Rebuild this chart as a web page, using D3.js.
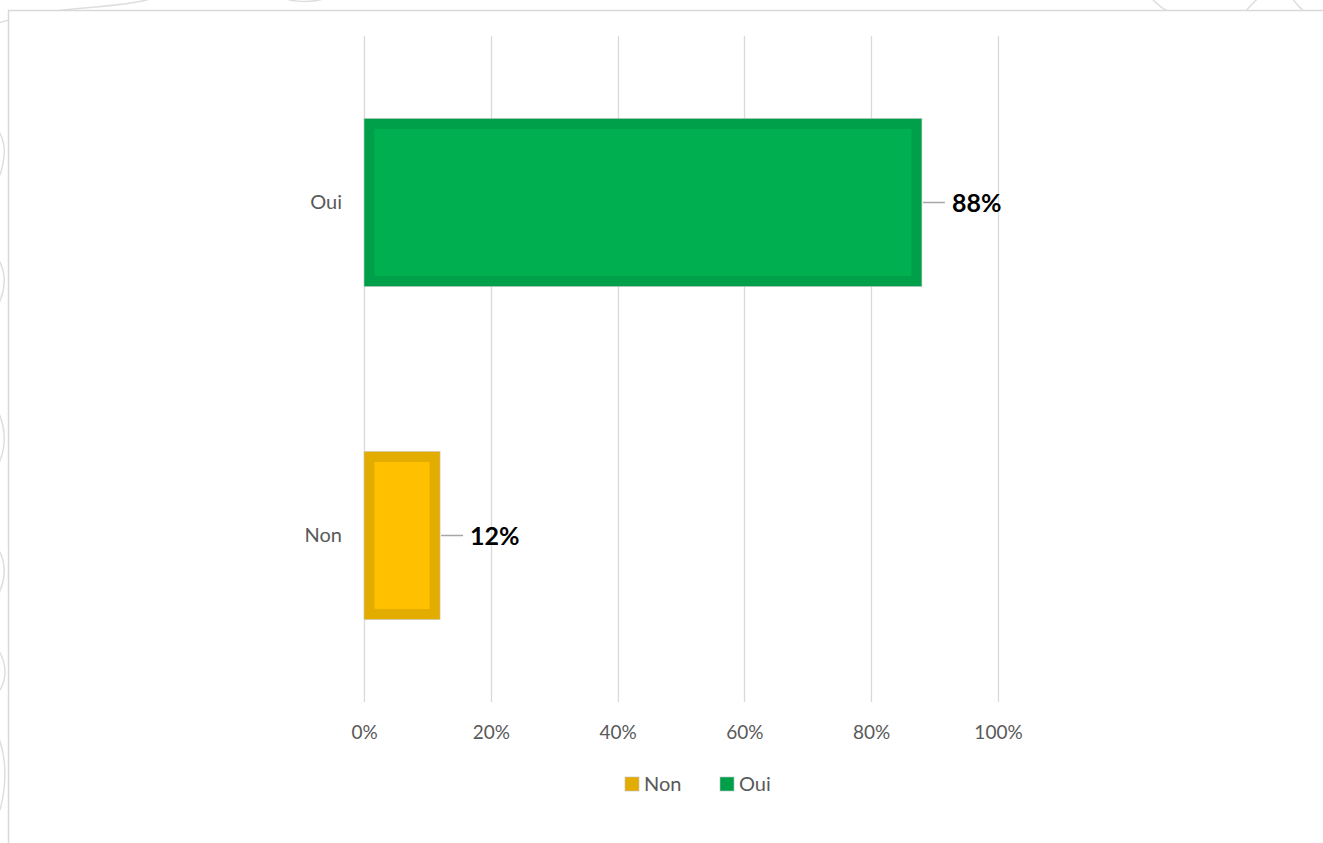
<!DOCTYPE html>
<html>
<head>
<meta charset="utf-8">
<script src="https://cdn.jsdelivr.net/npm/d3@7"></script>
<style>
  html, body { margin: 0; padding: 0; background: #fff; }
  svg { display: block; }
</style>
</head>
<body>
<svg id="chart" width="1323" height="843"></svg>
<script>
// Survey answers and their shares
const categories = ["Oui", "Non"];
const values = [0.88, 0.12];
const valueLabels = ["88%", "12%"];
const tickValues = [0, 0.2, 0.4, 0.6, 0.8, 1.0];
const legendOrder = ["Non", "Oui"];

const fillOuter = { Oui: "#00A04A", Non: "#E3AC00" };
const fillInner = { Oui: "#00B050", Non: "#FFC000" };

const svg = d3.select("#chart");
const W = 1323, H = 843;
const font = "Lato, 'Open Sans', sans-serif";

// Decorative faint curves behind the chart frame
const deco = svg.append("g").attr("fill", "none").attr("stroke", "#dedede").attr("stroke-width", 1.5);
const decoPaths = [
  "M -20 30 C 60 -5, 140 20, 190 -20",
  "M 250 -20 C 280 5, 320 12, 360 -20",
  "M 1140 -20 C 1150 0, 1160 8, 1170 12",
  "M 1245 12 C 1255 0, 1265 -8, 1280 -20",
  "M 1285 -20 C 1290 0, 1300 8, 1305 12",
  "M -10 120 C 5 135, 8 150, 0 175",
  "M -10 250 C 8 265, 8 290, -5 310",
  "M -10 400 C 8 420, 8 450, -5 470",
  "M -10 540 C 8 555, 8 580, -5 600",
  "M -10 640 C 6 655, 9 675, 0 690",
  "M -5 730 C 6 750, 8 780, 0 810"
];
deco.selectAll("path").data(decoPaths).join("path").attr("d", d => d);

// Chart frame
svg.append("rect")
  .attr("x", 8.5).attr("y", 10.5)
  .attr("width", W + 20).attr("height", H + 20)
  .attr("fill", "#fff").attr("stroke", "#d9d9d9").attr("stroke-width", 1.5);

const x = d3.scaleLinear().domain([0, 1]).range([364, 998]);
const y = d3.scaleBand().domain(categories).range([36, 702])
  .paddingInner(0.495).paddingOuter(0.2475);

// Vertical gridlines
svg.append("g").selectAll("line").data(tickValues).join("line")
  .attr("x1", d => Math.round(x(d)) + 0.5).attr("x2", d => Math.round(x(d)) + 0.5)
  .attr("y1", 36).attr("y2", 702)
  .attr("stroke", "#d9d9d9").attr("stroke-width", 1.3);

// X axis labels
const xAxis = svg.append("g").attr("transform", "translate(0,702)")
  .call(d3.axisBottom(x).tickValues(tickValues).tickSize(0).tickPadding(24)
    .tickFormat(d3.format(".0%")));
xAxis.select(".domain").remove();
xAxis.selectAll("text").attr("font-family", font).attr("font-size", 19).attr("fill", "#595959");

// Y axis labels
const yAxis = svg.append("g").attr("transform", "translate(364,0)")
  .call(d3.axisLeft(y).tickSize(0).tickPadding(22));
yAxis.select(".domain").remove();
yAxis.selectAll("text").attr("font-family", font).attr("font-size", 20).attr("fill", "#595959");

// Bars: darker outer band with lighter inner fill
const bars = svg.append("g").selectAll("g").data(categories).join("g");
bars.append("rect")
  .attr("x", x(0)).attr("y", d => y(d))
  .attr("width", (d, i) => x(values[i]) - x(0)).attr("height", y.bandwidth())
  .attr("fill", d => fillOuter[d]).attr("stroke", "#c8c8c8").attr("stroke-width", 0.6);
const inset = 10.5;
bars.append("rect")
  .attr("x", x(0) + inset).attr("y", d => y(d) + inset)
  .attr("width", (d, i) => Math.max(0, x(values[i]) - x(0) - 2 * inset))
  .attr("height", y.bandwidth() - 2 * inset)
  .attr("fill", d => fillInner[d]);

// Value labels with leader lines
bars.append("line")
  .attr("x1", (d, i) => x(values[i]) + 1).attr("x2", (d, i) => x(values[i]) + 23)
  .attr("y1", d => y(d) + y.bandwidth() / 2).attr("y2", d => y(d) + y.bandwidth() / 2)
  .attr("stroke", "#a6a6a6").attr("stroke-width", 1.5);
bars.append("text")
  .attr("x", (d, i) => x(values[i]) + 30)
  .attr("y", d => y(d) + y.bandwidth() / 2)
  .attr("dy", "0.36em")
  .attr("font-family", font).attr("font-weight", "bold").attr("font-size", 25)
  .attr("fill", "#000")
  .text((d, i) => valueLabels[i]);

// Legend
const legend = svg.append("g").attr("transform", "translate(625,784)");
const item = legend.selectAll("g").data(legendOrder).join("g")
  .attr("transform", (d, i) => `translate(${i * 95},0)`);
item.append("rect").attr("x", 0).attr("y", -7).attr("width", 14).attr("height", 14)
  .attr("fill", d => fillOuter[d]).attr("stroke", "#bfbfbf").attr("stroke-width", 0.6);
item.append("text").attr("x", 19).attr("y", 0).attr("dy", "0.36em")
  .attr("font-family", font).attr("font-size", 20).attr("fill", "#595959")
  .text(d => d);
</script>
</body>
</html>
